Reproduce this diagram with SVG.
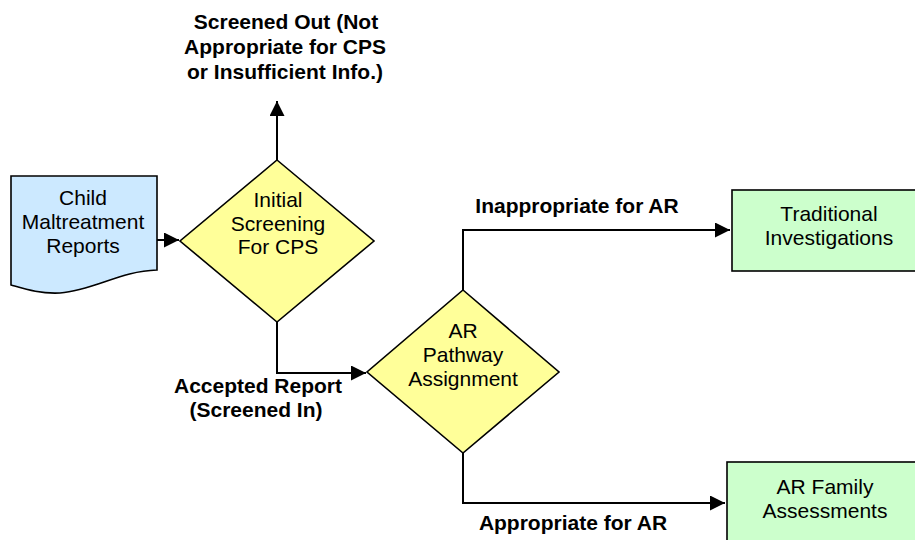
<svg xmlns="http://www.w3.org/2000/svg" width="915" height="540" viewBox="0 0 915 540">
<defs>
<style>
.shape{stroke:#000;stroke-width:1.6}
.doc{fill:#CCE9FF}
.dia{fill:#FFFF99}
.box{fill:#CCFFCC}
.t{font-family:"Liberation Sans",Arial,sans-serif;font-size:21px;fill:#000;text-anchor:middle}
.lb{font-family:"Liberation Sans",Arial,sans-serif;font-size:21px;font-weight:bold;fill:#000;text-anchor:middle}
.c{fill:none;stroke:#000;stroke-width:2}
</style>
<marker id="ah" viewBox="0 0 10 10" refX="10" refY="5" markerWidth="15" markerHeight="15" markerUnits="userSpaceOnUse" orient="auto">
<path d="M0,0 L10,5 L0,10 Z" fill="#000"/>
</marker>
</defs>
<rect width="915" height="540" fill="#fff"/>
<g id="connectors">
<path class="c" d="M157,240 H179" marker-end="url(#ah)"/>
<path class="c" d="M277,160 V101" marker-end="url(#ah)"/>
<path class="c" d="M277,322 V373 H366" marker-end="url(#ah)"/>
<path class="c" d="M463,290 V230 H730" marker-end="url(#ah)"/>
<path class="c" d="M463,453 V503 H725" marker-end="url(#ah)"/>
</g>
<g id="labels">
<text class="lb" x="286" y="29">Screened Out (Not</text>
<text class="lb" x="285" y="54">Appropriate for CPS</text>
<text class="lb" x="285" y="79">or Insufficient Info.)</text>
<text class="lb" x="258" y="393">Accepted Report</text>
<text class="lb" x="256" y="417">(Screened In)</text>
<text class="lb" x="577" y="213">Inappropriate for AR</text>
<text class="lb" x="573" y="530">Appropriate for AR</text>
</g>
<g id="reports">
<path class="shape doc" d="M11,176 H157 V270 C120,271 95,290 60,293 C40,294 25,289 11,285 Z"/>
<text class="t" x="83" y="205">Child</text>
<text class="t" x="83" y="229">Maltreatment</text>
<text class="t" x="83" y="253">Reports</text>
</g>
<g id="initial-screening">
<path class="shape dia" d="M277,160 L374,241 L277,322 L180,241 Z"/>
<text class="t" x="278" y="207">Initial</text>
<text class="t" x="278" y="231">Screening</text>
<text class="t" x="278" y="254">For CPS</text>
</g>
<g id="ar-pathway">
<path class="shape dia" d="M463,290 L559,372 L463,453 L367,372 Z"/>
<text class="t" x="463" y="338">AR</text>
<text class="t" x="463" y="362">Pathway</text>
<text class="t" x="463" y="386">Assignment</text>
</g>
<g id="traditional">
<rect class="shape box" x="732" y="190" width="195" height="81"/>
<text class="t" x="829" y="221">Traditional</text>
<text class="t" x="829" y="245">Investigations</text>
</g>
<g id="ar-family">
<rect class="shape box" x="727" y="462" width="200" height="90"/>
<text class="t" x="825" y="494">AR Family</text>
<text class="t" x="825" y="518">Assessments</text>
</g>
</svg>
